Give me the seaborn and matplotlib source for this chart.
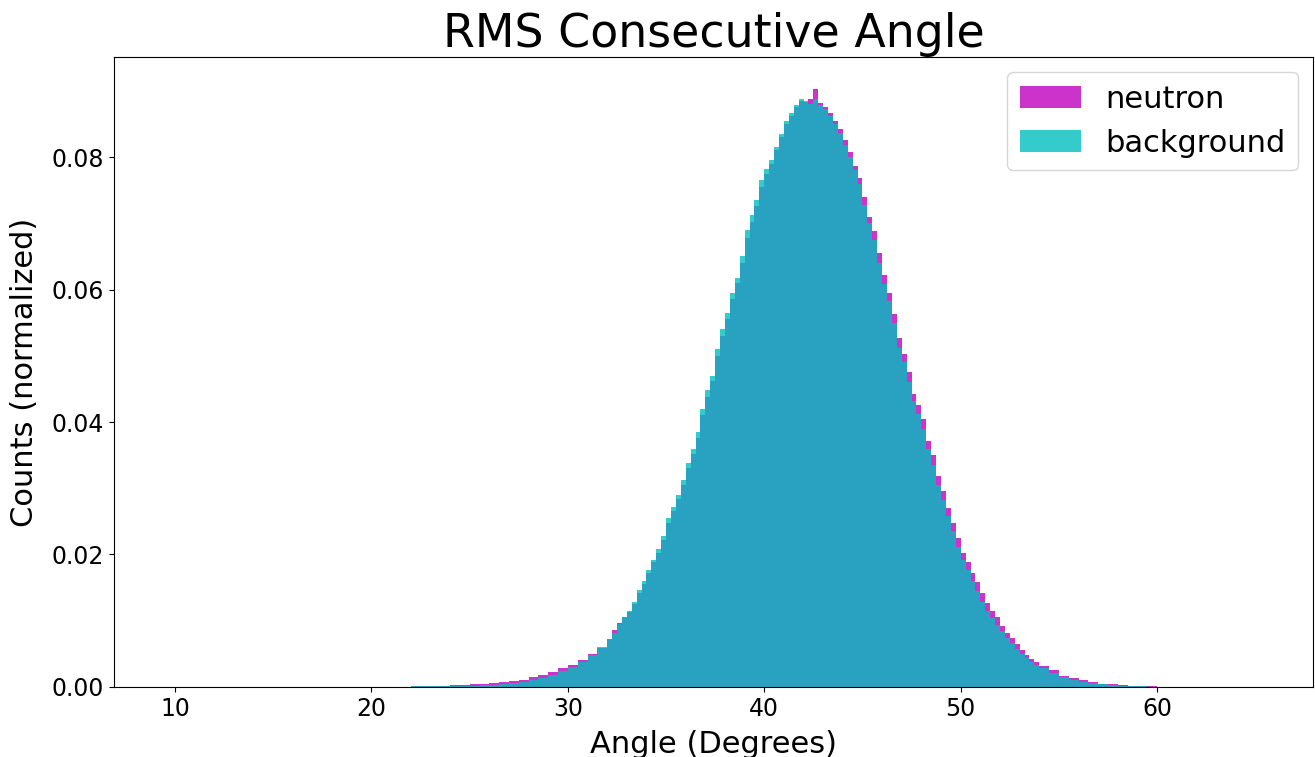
import matplotlib
matplotlib.use("Agg")
import matplotlib.pyplot as plt
import seaborn as sns
import numpy as np
import pandas as pd

# Bin edges (degrees): 0.5-degree bins in the tails, 0.25-degree bins in the core
bin_edges = [22.0, 22.5, 23.0, 23.5, 24.0, 24.5, 25.0, 25.5, 26.0, 26.5, 27.0,
             27.5, 28.0, 28.5, 29.0, 29.5, 30.0, 30.5, 31.0, 31.5, 32.0,
             32.25, 32.5, 32.75, 33.0, 33.25, 33.5, 33.75, 34.0, 34.25, 34.5, 34.75, 35.0,
             35.25, 35.5, 35.75, 36.0, 36.25, 36.5, 36.75, 37.0, 37.25, 37.5, 37.75, 38.0,
             38.25, 38.5, 38.75, 39.0, 39.25, 39.5, 39.75, 40.0, 40.25, 40.5, 40.75, 41.0,
             41.25, 41.5, 41.75, 42.0, 42.25, 42.5, 42.75, 43.0, 43.25, 43.5, 43.75, 44.0,
             44.25, 44.5, 44.75, 45.0, 45.25, 45.5, 45.75, 46.0, 46.25, 46.5, 46.75, 47.0,
             47.25, 47.5, 47.75, 48.0, 48.25, 48.5, 48.75, 49.0, 49.25, 49.5, 49.75, 50.0,
             50.25, 50.5, 50.75, 51.0, 51.25, 51.5, 51.75, 52.0, 52.25, 52.5, 52.75, 53.0,
             53.25, 53.5, 53.75, 54.0,
             54.5, 55.0, 55.5, 56.0, 56.5, 57.0, 57.5, 58.0, 58.5, 59.0, 59.5, 60.0,
             60.5, 61.0]

neutron = [0.0002, 0.0002, 0.0002, 0.0002, 0.0003, 0.0003, 0.0004, 0.0005, 0.0006, 0.0007,
           0.0009, 0.0011, 0.0015, 0.0018, 0.0022, 0.0029, 0.0033, 0.0040, 0.0050, 0.0059,
           0.0072, 0.0086, 0.0096, 0.0105, 0.0113, 0.0125, 0.0142, 0.0156,
           0.0172, 0.0188, 0.0203, 0.0222, 0.0248, 0.0266, 0.0284, 0.0305,
           0.0330, 0.0352, 0.0376, 0.0410, 0.0438, 0.0462, 0.0500, 0.0530,
           0.0556, 0.0586, 0.0610, 0.0640, 0.0678, 0.0702, 0.0726, 0.0755,
           0.0775, 0.0790, 0.0810, 0.0830, 0.0850, 0.0862, 0.0875, 0.0885,
           0.0883, 0.0888, 0.0903, 0.0882, 0.0876, 0.0866, 0.0855, 0.0842,
           0.0826, 0.0808, 0.0787, 0.0768, 0.0740, 0.0710, 0.0688, 0.0655,
           0.0622, 0.0594, 0.0563, 0.0527, 0.0502, 0.0475, 0.0443, 0.0425,
           0.0404, 0.0372, 0.0350, 0.0318, 0.0296, 0.0270, 0.0248, 0.0225,
           0.0203, 0.0188, 0.0172, 0.0158, 0.0142, 0.0127, 0.0115, 0.0105,
           0.0092, 0.0082, 0.0074, 0.0065, 0.0056, 0.0049, 0.0042, 0.0038,
           0.0032, 0.0025, 0.0017, 0.0013, 0.0010, 0.0007, 0.0005, 0.0004,
           0.0003, 0.0002, 0.0001, 0.0001, 0.00005, 0.00003]

background = [0.0001, 0.0001, 0.0001, 0.0001, 0.0001, 0.0002, 0.0002, 0.0003, 0.0003, 0.0004,
              0.0006, 0.0008, 0.0011, 0.0014, 0.0018, 0.0024, 0.0030, 0.0038, 0.0048, 0.0060,
              0.0072, 0.0082, 0.0095, 0.0106, 0.0115, 0.0128, 0.0146, 0.0160,
              0.0177, 0.0192, 0.0208, 0.0228, 0.0255, 0.0272, 0.0290, 0.0312,
              0.0338, 0.0360, 0.0385, 0.0420, 0.0448, 0.0470, 0.0510, 0.0540,
              0.0565, 0.0595, 0.0618, 0.0650, 0.0690, 0.0712, 0.0735, 0.0765,
              0.0782, 0.0795, 0.0815, 0.0835, 0.0855, 0.0866, 0.0878, 0.0888,
              0.0885, 0.0880, 0.0888, 0.0878, 0.0872, 0.0862, 0.0850, 0.0836,
              0.0818, 0.0800, 0.0780, 0.0760, 0.0728, 0.0700, 0.0675, 0.0640,
              0.0608, 0.0582, 0.0550, 0.0512, 0.0490, 0.0460, 0.0432, 0.0412,
              0.0390, 0.0360, 0.0335, 0.0305, 0.0282, 0.0258, 0.0236, 0.0212,
              0.0192, 0.0176, 0.0160, 0.0145, 0.0128, 0.0115, 0.0104, 0.0094,
              0.0085, 0.0074, 0.0067, 0.0058, 0.0050, 0.0044, 0.0038, 0.0033,
              0.0028, 0.0021, 0.0015, 0.0011, 0.0008, 0.0006, 0.0004, 0.0003,
              0.0002, 0.0001, 0.0001, 0.00005, 0.00003, 0.00002]

series_names = ["neutron", "background"]
series_colors = ["m", "c"]

bin_mids = [(a + b) / 2 for a, b in zip(bin_edges[:-1], bin_edges[1:])]

fig = plt.figure(figsize=(13.15, 7.57), dpi=100)
ax = fig.add_axes([0.0867, 0.0925, 0.9118, 0.8322])

for name, vals, col in zip(series_names, [neutron, background], series_colors):
    df = pd.DataFrame({"angle": bin_mids, "w": vals})
    sns.histplot(data=df, x="angle", weights="w", bins=bin_edges, element="step",
                 fill=True, color=col, alpha=0.8, linewidth=0, label=name, ax=ax)

ax.set_xlim(6.89, 67.94)
ax.set_ylim(0, 0.0951)
ax.set_xticks([10, 20, 30, 40, 50, 60])
ax.set_yticks([0.0, 0.02, 0.04, 0.06, 0.08])
ax.set_yticklabels(["0.00", "0.02", "0.04", "0.06", "0.08"])
ax.tick_params(labelsize=17)
ax.set_xlabel("Angle (Degrees)", fontsize=22, labelpad=7)
ax.set_ylabel("Counts (normalized)", fontsize=22, labelpad=9)
ax.set_title("RMS Consecutive Angle", fontsize=33)
ax.legend(loc="upper right", fontsize=22)

fig.savefig("out.png", dpi=100)
